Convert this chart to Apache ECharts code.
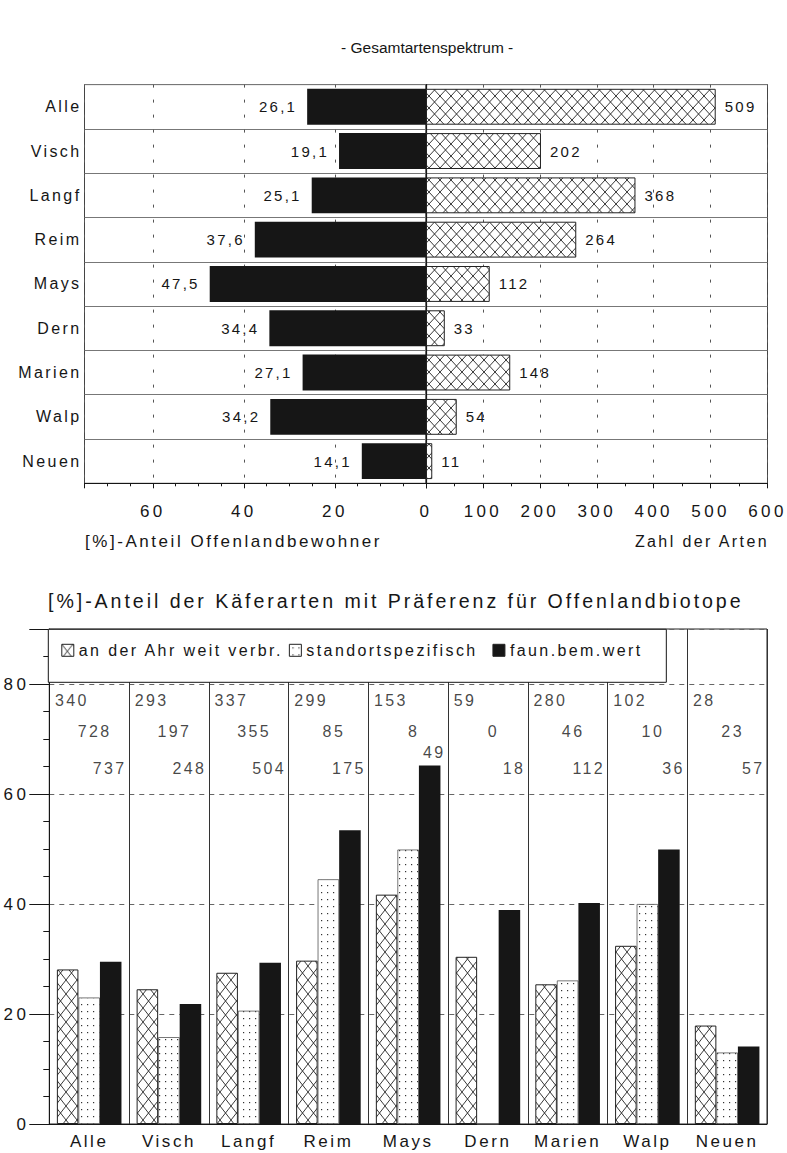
<!DOCTYPE html>
<html>
<head>
<meta charset="utf-8">
<title>Gesamtartenspektrum</title>
<script src="https://cdn.jsdelivr.net/npm/echarts@6/dist/echarts.min.js"></script>
<style>
  html, body { margin: 0; padding: 0; background: #fff; }
  #chart { width: 787px; height: 1153px; }
  /* the scanned figure uses a widely tracked Helvetica */
  #chart text[style*="Arial"] { letter-spacing: 0.15em; }
  #chart text[style*="Helvetica"] { letter-spacing: 0.2em; }
</style>
</head>
<body>
<div id="chart"></div>
<script>
const sites = ["Alle", "Visch", "Langf", "Reim", "Mays", "Dern", "Marien", "Walp", "Neuen"];

// upper chart
const openShare = [26.1, 19.1, 25.1, 37.6, 47.5, 34.4, 27.1, 34.2, 14.1];
const speciesCount = [509, 202, 368, 264, 112, 33, 148, 54, 11];

// lower chart, percent per group
const widespread = [28.1, 24.5, 27.5, 29.7, 41.7, 30.4, 25.4, 32.4, 17.9];
const siteSpecific = [23.0, 15.8, 20.6, 44.5, 49.9, 0, 26.1, 40.0, 13.0];
const faunValuable = [29.5, 21.8, 29.3, 53.4, 65.2, 38.9, 40.2, 49.9, 14.1];

// lower chart, species counts printed above the bars
const countWidespread = [340, 293, 337, 299, 153, 59, 280, 102, 28];
const countSite = [728, 197, 355, 85, 8, 0, 46, 10, 23];
const countFaun = [737, 248, 504, 175, 49, 18, 112, 36, 57];

const groupNames = ["an der Ahr weit verbr.", "standortspezifisch", "faun.bem.wert"];

const ink = "#161616";
const fontSpaced = '"Liberation Sans", Arial, sans-serif';
const fontTicks = '"Liberation Sans", Helvetica, sans-serif';
const fontPlain = '"Liberation Sans", sans-serif';

function hatchPattern(w, h) {
  const c = document.createElement("canvas");
  c.width = w;
  c.height = h;
  const ctx = c.getContext("2d");
  ctx.fillStyle = "#fff";
  ctx.fillRect(0, 0, w, h);
  ctx.strokeStyle = "#222";
  ctx.lineWidth = 0.9;
  ctx.beginPath();
  ctx.moveTo(0, 0);
  ctx.lineTo(w, h);
  ctx.moveTo(w, 0);
  ctx.lineTo(0, h);
  ctx.stroke();
  return { image: c.toDataURL(), repeat: "repeat", imageWidth: w, imageHeight: h };
}

function dotPattern(w, h) {
  const c = document.createElement("canvas");
  c.width = w;
  c.height = h;
  const ctx = c.getContext("2d");
  ctx.fillStyle = "#fff";
  ctx.fillRect(0, 0, w, h);
  ctx.fillStyle = "#333";
  ctx.fillRect(Math.floor(w / 2), Math.floor(h / 2), 1.2, 1.2);
  return { image: c.toDataURL(), repeat: "repeat", imageWidth: w, imageHeight: h };
}

const hatchTop = hatchPattern(11, 12);
const hatchLow = hatchPattern(11, 14);
const dotsLow = dotPattern(6, 7);

const commaOne = (v) => v.toFixed(1).replace(".", ",");

function countSeries(counts, level, align, dx) {
  return {
    type: "scatter",
    xAxisIndex: 2,
    yAxisIndex: 2,
    symbolSize: 0,
    silent: true,
    z: 5,
    data: counts.map((c, i) => [sites[i], level(i), c]),
    label: {
      show: true,
      position: "inside",
      align: align,
      offset: [dx, 0],
      formatter: (p) => String(p.value[2]),
      fontSize: 16,
      color: ink,
      fontFamily: fontSpaced,
    },
  };
}

const chart = echarts.init(document.getElementById("chart"), null, { renderer: "svg" });

const valueTicks = {
  axisLine: { show: true, lineStyle: { color: ink } },
  axisTick: { show: true, length: 5, lineStyle: { color: ink } },
  splitLine: { show: true, lineStyle: { color: "#555", type: [3, 12] } },
};

const rowAxis = {
  type: "category",
  data: sites,
  inverse: true,
  axisTick: { show: false },
  splitLine: { show: true, lineStyle: { color: "#777" } },
};

chart.setOption({
  animation: false,
  backgroundColor: "#fff",
  title: [
    {
      text: "- Gesamtartenspektrum -",
      left: 341, top: 39, padding: 0,
      textStyle: { fontSize: 15.5, fontWeight: "normal", color: ink, fontFamily: fontPlain },
    },
    {
      text: "[%]-Anteil Offenlandbewohner",
      left: 85, top: 533, padding: 0,
      textStyle: { fontSize: 17, fontWeight: "normal", color: ink, fontFamily: fontSpaced },
    },
    {
      text: "[%]-Anteil der Käferarten mit Präferenz für Offenlandbiotope",
      left: 48, top: 591, padding: 0,
      textStyle: { fontSize: 19.6, fontWeight: "normal", color: ink, fontFamily: fontSpaced },
    },
  ],
  graphic: [
    {
      type: "text",
      x: 769,
      y: 541,
      silent: true,
      style: {
        text: "Zahl der Arten",
        align: "right",
        textAlign: "right",
        verticalAlign: "middle",
        textVerticalAlign: "middle",
        fontSize: 16,
        fontFamily: fontSpaced,
        fill: ink,
      },
    },
  ],
  legend: {
    data: groupNames,
    left: 48.3,
    top: 629.3,
    icon: "rect",
    itemWidth: 12,
    itemHeight: 12,
    itemGap: 58,
    padding: [13, 55, 24, 13],
    backgroundColor: "#fff",
    borderColor: ink,
    borderWidth: 1,
    selectedMode: false,
    itemStyle: { borderColor: "#222", borderWidth: 1 },
    textStyle: { fontSize: 16, color: ink, fontFamily: fontSpaced },
  },
  grid: [
    { left: 84.5, right: 361, top: 84.6, height: 398.7, show: true, borderColor: "#444", borderWidth: 1, outerBoundsMode: "none" },
    { left: 426, right: 19.5, top: 84.6, height: 398.7, show: true, borderColor: "#444", borderWidth: 1, outerBoundsMode: "none" },
    { left: 49.3, right: 20, top: 629, height: 495, show: true, borderColor: "#222", borderWidth: 1, outerBoundsMode: "none" },
  ],
  xAxis: [
    {
      gridIndex: 0, type: "value", inverse: true, min: 0, max: 75, interval: 20,
      ...valueTicks,
      minorTick: { show: true, splitNumber: 4, length: 3, lineStyle: { color: ink } },
      axisLabel: { showMinLabel: false, showMaxLabel: false, margin: 20, fontSize: 17, color: ink, fontFamily: fontTicks },
    },
    {
      gridIndex: 1, type: "value", min: 0, max: 600, interval: 100,
      ...valueTicks,
      minorTick: { show: true, splitNumber: 2, length: 3, lineStyle: { color: ink } },
      axisLabel: { margin: 20, fontSize: 17, color: ink, fontFamily: fontTicks },
    },
    {
      gridIndex: 2, type: "category", data: sites,
      axisLine: { show: true, lineStyle: { color: ink } },
      axisTick: { show: false },
      axisLabel: { interval: 0, margin: 9, fontSize: 17, color: ink, fontFamily: fontSpaced },
      splitLine: { show: true, interval: 0, lineStyle: { color: "#333" } },
    },
  ],
  yAxis: [
    {
      gridIndex: 0, ...rowAxis,
      axisLine: { show: false },
      axisLabel: { margin: 3, fontSize: 16, color: ink, fontFamily: fontSpaced },
    },
    {
      gridIndex: 1, ...rowAxis,
      axisLine: { show: true, lineStyle: { color: ink, width: 1.2 } },
      axisLabel: { show: false },
    },
    {
      gridIndex: 2, type: "value", min: 0, max: 90, interval: 20,
      axisLine: { show: true, lineStyle: { color: ink } },
      axisTick: { show: true, length: 20, lineStyle: { color: ink } },
      minorTick: { show: true, splitNumber: 4, length: 6, lineStyle: { color: ink } },
      axisLabel: { showMaxLabel: false, margin: 20, fontSize: 17, color: ink, fontFamily: fontTicks },
      splitLine: { show: true, lineStyle: { color: "#666", type: [5, 5] } },
    },
  ],
  series: [
    {
      type: "bar", xAxisIndex: 0, yAxisIndex: 0, data: openShare,
      barCategoryGap: "19%", silent: true,
      itemStyle: { color: ink },
      label: {
        show: true, position: "left", distance: 10,
        formatter: (p) => commaOne(p.value),
        fontSize: 15, color: ink, fontFamily: fontSpaced,
      },
    },
    {
      type: "bar", xAxisIndex: 1, yAxisIndex: 1, data: speciesCount,
      barCategoryGap: "19%", silent: true,
      itemStyle: { color: hatchTop, borderColor: "#222", borderWidth: 1 },
      label: { show: true, position: "right", distance: 9, fontSize: 15, color: ink, fontFamily: fontSpaced },
    },
    {
      name: groupNames[0], type: "bar", xAxisIndex: 2, yAxisIndex: 2, data: widespread,
      barGap: "0%", barCategoryGap: "19%", silent: true,
      itemStyle: { color: hatchLow, borderColor: "#222", borderWidth: 1 },
    },
    {
      name: groupNames[1], type: "bar", xAxisIndex: 2, yAxisIndex: 2, data: siteSpecific,
      barGap: "0%", barCategoryGap: "19%", silent: true,
      itemStyle: { color: dotsLow, borderColor: "#555", borderWidth: 0.8 },
    },
    {
      name: groupNames[2], type: "bar", xAxisIndex: 2, yAxisIndex: 2, data: faunValuable,
      barGap: "0%", barCategoryGap: "19%", silent: true,
      itemStyle: { color: ink },
    },
    countSeries(countWidespread, () => 77, "left", -34.2),
    countSeries(countSite, () => 71.4, "center", 5.5),
    countSeries(countFaun, (i) => Math.max(64.6, faunValuable[i] + 2.4), "right", 37.5),
  ],
});
</script>
</body>
</html>
